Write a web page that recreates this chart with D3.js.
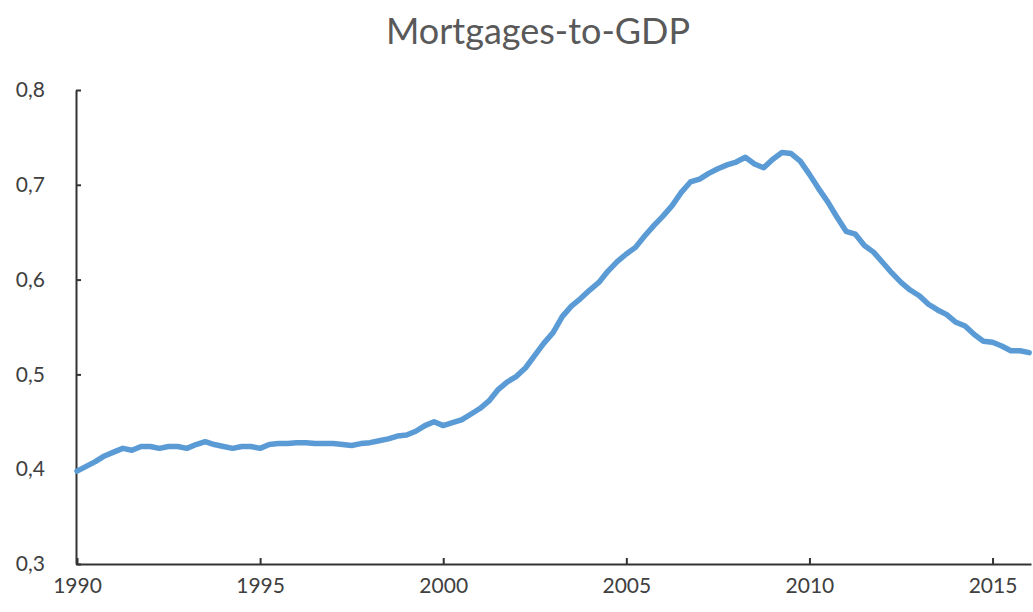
<!DOCTYPE html>
<html>
<head>
<meta charset="utf-8">
<script src="https://cdn.jsdelivr.net/npm/d3@7"></script>
<style>
  body { margin: 0; background: #fff; }
  svg { display: block; }
</style>
</head>
<body>
<div class="chart"></div>
<script>
// quarterly mortgages-to-GDP ratio, 1990Q1 .. 2016Q1
const ratio = [
    0.398, 0.403, 0.408, 0.414,
    0.418, 0.422, 0.420, 0.424,
    0.424, 0.422, 0.424, 0.424,
    0.422, 0.426, 0.429, 0.426,
    0.424, 0.422, 0.424, 0.424,
    0.422, 0.426, 0.427, 0.427,
    0.428, 0.428, 0.427, 0.427,
    0.427, 0.426, 0.425, 0.427,
    0.428, 0.430, 0.432, 0.435,
    0.436, 0.440, 0.446, 0.450,
    0.446, 0.449, 0.452, 0.458,
    0.464, 0.472, 0.484, 0.492,
    0.498, 0.507, 0.520, 0.533,
    0.544, 0.561, 0.572, 0.580,
    0.589, 0.597, 0.609, 0.619,
    0.627, 0.634, 0.646, 0.657,
    0.667, 0.678, 0.692, 0.703,
    0.706, 0.712, 0.717, 0.721,
    0.724, 0.729, 0.722, 0.718,
    0.727, 0.734, 0.733, 0.725,
    0.711, 0.696, 0.682, 0.666,
    0.651, 0.648, 0.636, 0.629,
    0.618, 0.607, 0.597, 0.589,
    0.583, 0.574, 0.568, 0.563,
    0.555, 0.551, 0.542, 0.535,
    0.534, 0.530, 0.525, 0.525,
    0.523
]
// time of each observation (quarter starts)
const quarters = ratio.map((d, i) => 1990 + i / 4)

const xTicks = [1990, 1995, 2000, 2005, 2010, 2015]
const yTicks = [0.3, 0.4, 0.5, 0.6, 0.7, 0.8]
const title = "Mortgages-to-GDP"

// dimensions
const width = 1033,
    height = 612

const svg = d3.select(".chart")
    .append("svg")
    .attr("width", width)
    .attr("height", height)

const x = d3.scaleLinear()
    .domain([1990, 2016.05])
    .range([77, 1031])

const y = d3.scaleLinear()
    .domain([0.3, 0.8])
    .range([564, 90])

// comma as decimal separator
const locale = d3.formatLocale({ decimal: ",", thousands: ".", grouping: [3], currency: ["", ""] })
const fmt = locale.format(".1f")

const font = "Lato, 'Open Sans', sans-serif"

// y axis, ticks pointing inward
const yAxis = svg.append("g")
    .attr("transform", `translate(${x(1990) - 1},0)`)
    .call(d3.axisLeft(y).tickValues(yTicks).tickFormat(fmt).tickSizeInner(-5).tickSizeOuter(0).tickPadding(31))
yAxis.select(".domain").attr("stroke", "#333").attr("stroke-width", 2)
yAxis.selectAll(".tick line").attr("stroke", "#333").attr("stroke-width", 2)
yAxis.selectAll(".tick text")
    .attr("fill", "#404040")
    .style("font-family", font)
    .style("font-size", "21px")

// x axis
const xAxis = svg.append("g")
    .attr("transform", `translate(0,${y(0.3)})`)
    .call(d3.axisBottom(x).tickValues(xTicks).tickFormat(d3.format("d")).tickSizeInner(-6).tickSizeOuter(0).tickPadding(14))
xAxis.select(".domain").attr("stroke", "#333").attr("stroke-width", 2)
xAxis.selectAll(".tick line").attr("stroke", "#333").attr("stroke-width", 2)
xAxis.selectAll(".tick text")
    .attr("fill", "#404040")
    .style("font-family", font)
    .style("font-size", "21px")

// the line itself
const line = d3.line()
    .x((d, i) => x(quarters[i]))
    .y(d => y(d))

svg.append("path")
    .datum(ratio)
    .attr("d", line)
    .attr("fill", "none")
    .attr("stroke", "#5b9bd5")
    .attr("stroke-width", 5.5)
    .attr("stroke-linejoin", "round")
    .attr("stroke-linecap", "round")

svg.append("text")
    .attr("x", 538)
    .attr("y", 44)
    .attr("text-anchor", "middle")
    .attr("fill", "#595959")
    .style("font-family", font)
    .style("font-size", "36px")
    .text(title)
</script>
</body>
</html>
